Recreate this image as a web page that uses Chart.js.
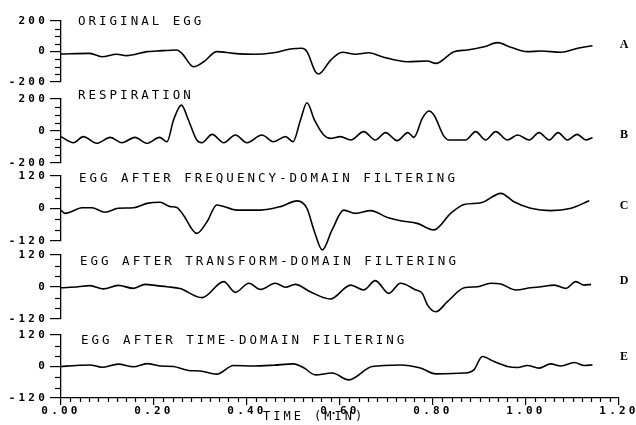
<!DOCTYPE html>
<html>
<head>
<meta charset="utf-8">
<script src="https://cdn.jsdelivr.net/npm/chart.js@4.4.1/dist/chart.umd.min.js"></script>
<style>
  html, body { margin: 0; padding: 0; background: #fff; }
  #wrap { position: relative; width: 636px; height: 425px; overflow: hidden; background: #fff; }
  #wrap canvas { position: absolute; left: 0; }
</style>
</head>
<body>
<div id="wrap"></div>
<script>
// ---------------- DATA ----------------
const panelTitles = [
  'ORIGINAL EGG',
  'RESPIRATION',
  'EGG AFTER FREQUENCY-DOMAIN FILTERING',
  'EGG AFTER TRANSFORM-DOMAIN FILTERING',
  'EGG AFTER TIME-DOMAIN FILTERING'
];
const panelLetters = ['A', 'B', 'C', 'D', 'E'];
const xAxisTitle = 'TIME (MIN)';
const xTickLabels = ['0.00', '0.20', '0.40', '0.60', '0.80', '1.00', '1.20'];
const yTickLabels200 = ['-200', '0', '200'];
const yTickLabels120 = ['-120', '0', '120'];
const yLimits = [200, 200, 120, 120, 120];
const yMinorSteps = [50, 50, 40, 40, 40];

// A: original EGG
const tA = [0, 0.062, 0.088, 0.12, 0.141, 0.185, 0.206, 0.249, 0.26, 0.285, 0.307, 0.335, 0.371, 0.414, 0.457, 0.493, 0.518, 0.529, 0.547, 0.554, 0.58, 0.605, 0.633, 0.662, 0.694, 0.745, 0.788, 0.806, 0.845, 0.874, 0.91, 0.939, 0.967, 1.003, 1.032, 1.075, 1.111, 1.143];
const vA = [-16, -12, -34, -18, -27, -1, 3, 10, -12, -100, -67, -1, -12, -18, -8, 16, 21, -1, -132, -148, -56, -5, -18, -8, -38, -67, -62, -78, -1, 10, 31, 58, 28, -1, 3, -5, 21, 38];

// B: respiration
const tB = [0, 0.027, 0.048, 0.077, 0.106, 0.131, 0.159, 0.185, 0.212, 0.228, 0.242, 0.259, 0.274, 0.292, 0.303, 0.325, 0.35, 0.375, 0.4, 0.432, 0.457, 0.483, 0.499, 0.515, 0.529, 0.545, 0.565, 0.58, 0.601, 0.623, 0.651, 0.676, 0.698, 0.723, 0.746, 0.759, 0.777, 0.791, 0.802, 0.824, 0.835, 0.87, 0.892, 0.913, 0.935, 0.96, 0.982, 1.007, 1.028, 1.05, 1.069, 1.089, 1.11, 1.129, 1.143];
const vB = [-35, -73, -35, -77, -40, -73, -40, -77, -40, -67, 69, 162, 69, -56, -73, -21, -73, -25, -73, -25, -67, -35, -67, 69, 177, 69, -25, -46, -35, -56, -4, -56, -10, -60, -10, -40, 79, 125, 100, -35, -56, -56, -4, -56, -4, -56, -25, -56, -10, -56, -10, -56, -21, -56, -40];

// C: after frequency-domain filtering
const tC = [0, 0.009, 0.019, 0.045, 0.066, 0.095, 0.123, 0.156, 0.185, 0.213, 0.235, 0.249, 0.263, 0.292, 0.314, 0.335, 0.379, 0.429, 0.472, 0.508, 0.529, 0.544, 0.562, 0.583, 0.608, 0.633, 0.666, 0.702, 0.73, 0.766, 0.802, 0.838, 0.867, 0.903, 0.946, 0.974, 1.01, 1.053, 1.097, 1.136];
const vC = [-6, -18, -14, 3, 3, -14, 1, 3, 19, 23, 7, 4, -24, -92, -49, 13, -6, -6, 7, 28, 0, -80, -153, -79, -6, -18, -8, -33, -45, -55, -79, -18, 15, 21, 56, 25, 1, -8, 1, 29];

// D: after transform-domain filtering
const tD = [0, 0.037, 0.062, 0.091, 0.123, 0.156, 0.181, 0.206, 0.228, 0.256, 0.303, 0.35, 0.375, 0.404, 0.429, 0.461, 0.483, 0.504, 0.536, 0.579, 0.623, 0.651, 0.676, 0.705, 0.73, 0.763, 0.777, 0.788, 0.806, 0.831, 0.867, 0.896, 0.924, 0.946, 0.978, 1.01, 1.032, 1.061, 1.086, 1.107, 1.125, 1.14];
const vD = [-3, 1, 5, -7, 6, -5, 10, 5, 1, -6, -40, 20, -20, 14, -9, 14, -1, 10, -18, -45, 7, -11, 24, -24, 14, -11, -24, -67, -93, -55, -3, 1, 14, 11, -11, -3, 1, 7, -5, 20, 7, 10];

// E: after time-domain filtering
const tE = [0, 0.034, 0.062, 0.088, 0.123, 0.156, 0.185, 0.213, 0.242, 0.274, 0.299, 0.335, 0.371, 0.414, 0.457, 0.5, 0.522, 0.547, 0.583, 0.619, 0.669, 0.73, 0.773, 0.806, 0.867, 0.888, 0.906, 0.931, 0.96, 0.982, 1.003, 1.028, 1.053, 1.075, 1.104, 1.125, 1.143];
const vE = [0, 4, 6, -3, 9, -1, 11, 2, 0, -15, -17, -29, 4, 2, 5, 10, -5, -32, -25, -51, 0, 6, -6, -28, -25, -13, 38, 19, 0, -4, 4, -6, 10, 2, 15, 4, 6];

const seriesT = [tA, tB, tC, tD, tE];
const seriesV = [vA, vB, vC, vD, vE];

// ---------------- LAYOUT (page pixels) ----------------
const PANEL_TOP = [21, 99, 176, 255, 335];
const PANEL_BOTTOM = [82, 163, 241, 319, 398];
const TITLE_X = [78, 78, 79, 80, 81];
const TITLE_Y = [22, 96, 179, 262, 341];
const LETTER_X = 624;
const LETTER_Y = [45, 135, 206, 281, 357];
const PLOT_LEFT = 61, PLOT_RIGHT = 619, PAGE_H = 425;
const PAD = 14;
const MONO = '"DejaVu Sans Mono", "Liberation Mono", monospace';

const wrap = document.getElementById('wrap');

function makePlugin(i, cTop, isLast) {
  return {
    id: 'eggDecor' + i,
    beforeDraw(chart) { chart.ctx.letterSpacing = '3.2px'; },
    afterDraw(chart) {
      const ctx = chart.ctx, ca = chart.chartArea, ys = chart.scales.y;
      ctx.save();
      ctx.strokeStyle = '#000';
      ctx.lineWidth = 1.2;
      // y minor ticks
      const lim = yLimits[i], st = yMinorSteps[i];
      for (let v = -lim; v <= lim + 1e-9; v += st) {
        if (Math.abs(v % lim) < 1e-9) continue;
        const py = Math.round(ys.getPixelForValue(v)) + 0.5;
        ctx.beginPath(); ctx.moveTo(ca.left - 6, py); ctx.lineTo(ca.left, py); ctx.stroke();
      }
      // x minor ticks
      if (isLast) {
        const xs = chart.scales.x;
        for (let k = 1; k < 60; k++) {
          if (k % 10 === 0) continue;
          const px = Math.round(xs.getPixelForValue(k * 0.02)) + 0.5;
          ctx.beginPath(); ctx.moveTo(px, ca.bottom); ctx.lineTo(px, ca.bottom + 4); ctx.stroke();
        }
      }
      // titles
      ctx.fillStyle = '#000';
      ctx.textBaseline = 'middle';
      ctx.textAlign = 'left';
      ctx.letterSpacing = '3px';
      ctx.font = '12.5px ' + MONO;
      ctx.fillText(panelTitles[i], TITLE_X[i], TITLE_Y[i] - cTop);
      if (isLast) {
        ctx.font = '12px ' + MONO;
        ctx.fillText(xAxisTitle, 263, 417 - cTop);
      }
      ctx.letterSpacing = '0px';
      ctx.textAlign = 'center';
      ctx.font = 'bold 12px "Liberation Serif", "DejaVu Serif", serif';
      ctx.fillText(panelLetters[i], LETTER_X, LETTER_Y[i] - cTop);
      ctx.restore();
    }
  };
}

function makePanel(i) {
  const isLast = i === 4;
  const top = PANEL_TOP[i], bottom = PANEL_BOTTOM[i];
  const cTop = top - PAD;
  const cHeight = isLast ? (PAGE_H - cTop) : (bottom - top + 2 * PAD);
  const canvas = document.createElement('canvas');
  canvas.width = 636; canvas.height = cHeight;
  canvas.style.width = '636px'; canvas.style.height = cHeight + 'px';
  canvas.style.top = cTop + 'px';
  wrap.appendChild(canvas);
  const pts = seriesT[i].map((t, k) => ({ x: t, y: seriesV[i][k] }));
  const lim = yLimits[i];
  const yLabels = lim === 200 ? yTickLabels200 : yTickLabels120;
  const tickFont = { family: MONO, size: 11, weight: 'bold' };
  new Chart(canvas, {
    type: 'line',
    data: { datasets: [{
      data: pts, borderColor: '#000', borderWidth: 1.6, pointRadius: 0,
      cubicInterpolationMode: 'monotone', clip: false, fill: false
    }] },
    options: {
      responsive: false, animation: false, devicePixelRatio: 1, events: [],
      layout: { padding: { left: 0, right: 636 - PLOT_RIGHT, top: PAD, bottom: isLast ? 0 : PAD } },
      plugins: { legend: { display: false }, tooltip: { enabled: false }, title: { display: false } },
      scales: {
        x: {
          type: 'linear', min: 0, max: 1.2, display: isLast,
          border: { display: true, color: '#000', width: 1.3 },
          grid: { drawOnChartArea: false, drawTicks: true, tickLength: 7, color: '#000', lineWidth: 1.2 },
          ticks: {
            stepSize: 0.2, autoSkip: false, maxRotation: 0, padding: 0, color: '#000', font: tickFont,
            callback: (v) => xTickLabels[Math.round(v / 0.2)]
          },
          afterFit: (s) => {
            if (isLast) { s.height = PAGE_H - PANEL_BOTTOM[4]; }
            else { s.height = 0; }
            s.paddingLeft = 0; s.paddingRight = 0;
          }
        },
        y: {
          type: 'linear', min: -lim, max: lim,
          border: { display: true, color: '#000', width: 1.3 },
          grid: { drawOnChartArea: false, drawTicks: true, tickLength: 11, color: '#000', lineWidth: 1.2 },
          ticks: {
            stepSize: lim, autoSkip: false, padding: 2, color: '#000', font: tickFont,
            callback: (v) => yLabels[Math.round(v / lim) + 1]
          },
          afterFit: (s) => { s.width = PLOT_LEFT; }
        }
      }
    },
    plugins: [makePlugin(i, cTop, isLast)]
  });
}

for (let i = 0; i < 5; i++) makePanel(i);
</script>
</body>
</html>
